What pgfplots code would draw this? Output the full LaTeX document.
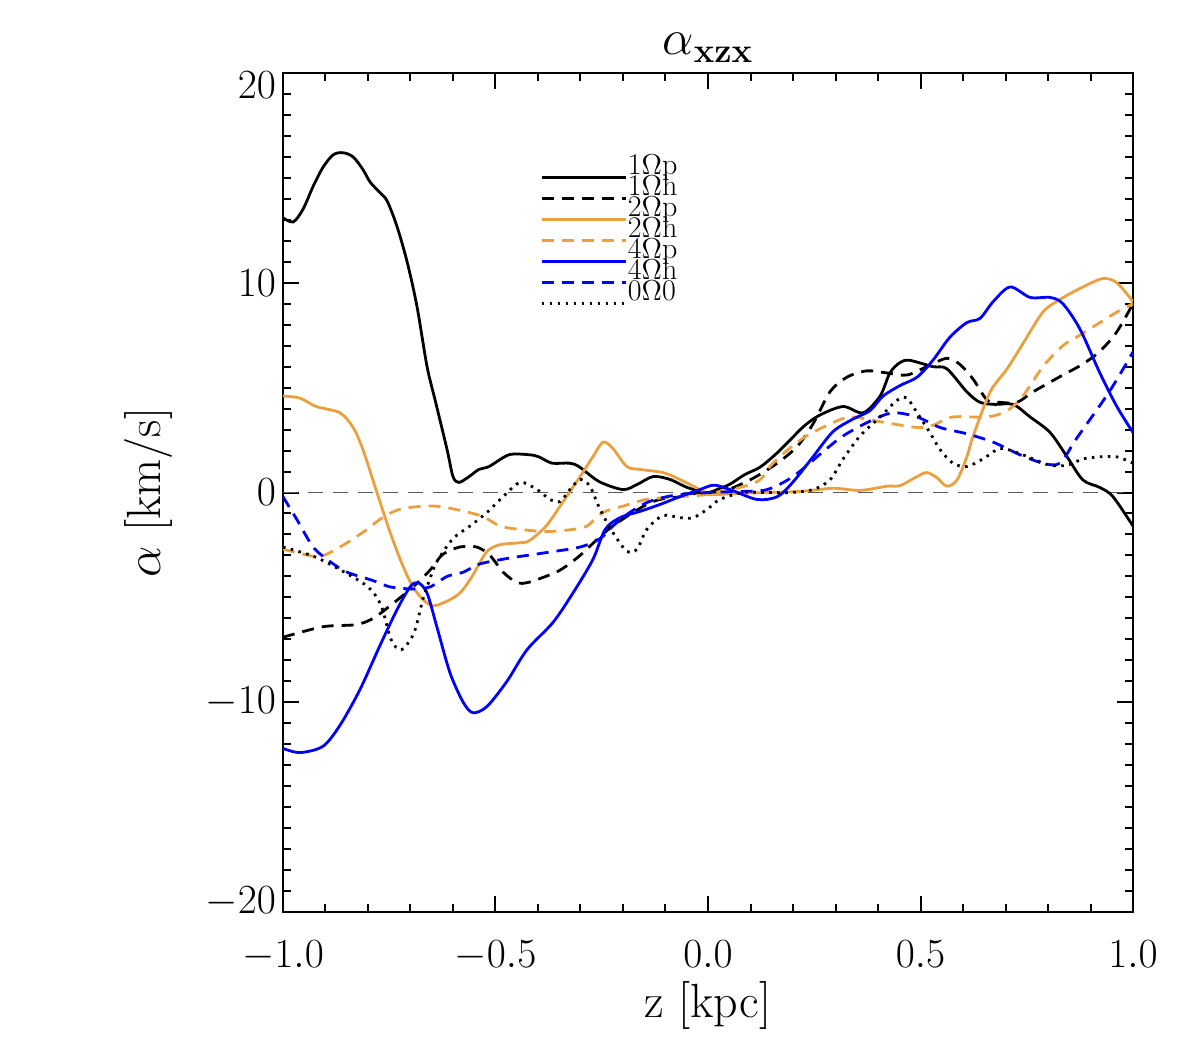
\documentclass[border=0pt]{standalone}
\usepackage{pgfplots}
\pgfplotsset{compat=1.18}
\definecolor{idlorange}{RGB}{235,160,64}
\begin{document}
\begin{tikzpicture}
\path[use as bounding box] (-141.5pt,-75pt) rectangle (448pt,456pt);
\begin{axis}[
  at={(0,0)}, anchor=south west, scale only axis,
  width=425pt, height=419.5pt,
  xmin=-1, xmax=1, ymin=-20, ymax=20,
  xtick={-1,-0.5,0,0.5,1}, ytick={-20,-10,0,10,20},
  yticklabels={{\raisebox{6pt}[\height][0pt]{$-20$}},{$-10$},{$0$},{$10$},{\raisebox{-6pt}[\height][0pt]{$20$}}},
  minor x tick num=4, minor y tick num=9,
  tick align=inside, xtick pos=both, ytick pos=both,
  major tick length=8pt, minor tick length=4pt,
  axis line style={line width=1.4pt},
  every tick/.style={black, line width=1pt},
  tick label style={font=\fontsize{20}{22}\selectfont},
  xticklabel style={/pgf/number format/fixed, /pgf/number format/fixed zerofill, /pgf/number format/precision=1, yshift=-11pt},
  xlabel={z [kpc]}, ylabel={$\alpha$ [km/s]},
  label style={font=\fontsize{24}{27}\selectfont},
  xlabel style={at={(axis description cs:0.5,-0.111)}, anchor=center},
  ylabel style={at={(axis description cs:-0.158,0.5)}, anchor=center, rotate=0},
  title={$\alpha_{\mathbf{xzx}}$},
  every axis title shift=0pt,
  title style={font=\fontsize{24}{26}\selectfont, at={(axis description cs:0.5,1.022)}, anchor=base, yshift=0pt},
  legend cell align=left,
  legend style={draw=none, fill=none, at={(axis description cs:0.295,0.903)}, anchor=north west,
    font=\fontsize{15}{15}\selectfont, row sep=0pt,
    nodes={inner sep=0.5pt, text height=7.5pt, text depth=2pt}},
  legend image code/.code={\draw[#1] (0pt,-4pt) -- (42pt,-4pt);},
  every axis plot/.append style={line width=1.4pt, smooth, tension=0.5},
]
\addplot[forget plot, gray!70!black, line width=0.6pt, sharp plot, dash pattern=on 7.5pt off 5pt] coordinates {(-1,0) (1,0)};

% 1Omega p
\addplot[black] coordinates {
(-1.000,13.1) (-0.976,12.9) (-0.953,13.5) (-0.929,14.6) (-0.906,15.5) (-0.882,16.1) (-0.859,16.2) (-0.835,16.0)
(-0.812,15.4) (-0.795,14.8) (-0.772,14.3) (-0.755,13.9) (-0.732,12.7) (-0.708,11.0) (-0.685,8.9) (-0.661,6.0)
(-0.642,4.4) (-0.614,2.05) (-0.600,0.76) (-0.586,0.48) (-0.562,0.76) (-0.539,1.1) (-0.515,1.24) (-0.468,1.8)
(-0.421,1.8) (-0.398,1.7) (-0.367,1.4) (-0.327,1.4) (-0.304,1.24) (-0.256,0.52) (-0.200,0.14) (-0.167,0.38)
(-0.129,0.76) (-0.089,0.62) (-0.049,0.24) (-0.002,0.0) (0.028,0.2) (0.052,0.4) (0.087,0.86) (0.122,1.2)
(0.158,1.8) (0.193,2.5) (0.228,3.2) (0.264,3.7) (0.318,4.1) (0.365,3.8) (0.405,4.6) (0.428,5.7) (0.452,6.2)
(0.475,6.3) (0.529,6.0) (0.562,5.9) (0.609,4.8) (0.640,4.3) (0.675,4.2) (0.718,4.2) (0.758,3.6) (0.805,2.86)
(0.845,1.7) (0.882,0.6) (0.922,0.24) (0.953,-0.2) (1.000,-1.6)};
\addlegendentry{1$\Omega$p}

% 1Omega h
\addplot[black, dash pattern=on 6pt off 4pt] coordinates {
(-1.000,-6.9) (-0.906,-6.4) (-0.828,-6.3) (-0.788,-6.0) (-0.748,-5.4) (-0.694,-4.5) (-0.654,-3.7) (-0.624,-2.95)
(-0.584,-2.6) (-0.544,-2.6) (-0.513,-3.0) (-0.482,-3.8) (-0.449,-4.3) (-0.426,-4.3) (-0.395,-4.1) (-0.348,-3.7)
(-0.301,-3.0) (-0.254,-2.1) (-0.224,-1.6) (-0.184,-1.05) (-0.144,-0.57) (-0.113,-0.33) (-0.066,-0.2) (-0.019,0.0)
(0.028,0.0) (0.099,0.6) (0.163,1.4) (0.210,2.2) (0.248,3.3) (0.287,4.8) (0.327,5.5) (0.374,5.8) (0.421,5.7)
(0.468,5.6) (0.515,6.0) (0.562,6.4) (0.593,6.1) (0.624,5.4) (0.657,4.4) (0.687,4.3) (0.727,4.3) (0.765,4.8)
(0.826,5.5) (0.880,6.1) (0.920,6.7) (0.960,7.6) (1.000,9.0)};
\addlegendentry{1$\Omega$h}

% 2Omega p
\addplot[idlorange] coordinates {
(-1.000,4.6) (-0.960,4.5) (-0.922,4.1) (-0.866,3.8) (-0.835,3.1) (-0.812,2.05) (-0.779,0.0) (-0.748,-1.9)
(-0.718,-3.5) (-0.694,-4.5) (-0.671,-5.1) (-0.647,-5.4) (-0.616,-5.2) (-0.584,-4.8) (-0.555,-4.0) (-0.522,-2.86)
(-0.492,-2.5) (-0.445,-2.4) (-0.421,-2.3) (-0.381,-1.6) (-0.343,-0.5) (-0.301,0.76) (-0.271,1.7) (-0.247,2.4)
(-0.224,2.1) (-0.191,1.24) (-0.160,1.1) (-0.106,0.95) (-0.066,0.62) (-0.019,0.14) (0.005,-0.1) (0.059,-0.05)
(0.139,0.0) (0.217,0.05) (0.294,0.2) (0.358,0.1) (0.421,0.3) (0.452,0.33) (0.492,0.76) (0.515,0.95) (0.539,0.7)
(0.562,0.3) (0.586,0.6) (0.609,1.7) (0.624,2.7) (0.664,4.8) (0.704,5.9) (0.741,7.1) (0.788,8.6) (0.828,9.2)
(0.882,9.8) (0.929,10.2) (0.962,10.0) (1.000,9.1)};
\addlegendentry{2$\Omega$p}

% 2Omega h
\addplot[idlorange, dash pattern=on 6pt off 4pt] coordinates {
(-1.000,-2.7) (-0.960,-2.9) (-0.913,-3.05) (-0.866,-2.6) (-0.812,-1.9) (-0.766,-1.2) (-0.725,-0.8) (-0.668,-0.65)
(-0.620,-0.7) (-0.536,-1.1) (-0.489,-1.6) (-0.442,-1.76) (-0.379,-1.86) (-0.318,-1.76) (-0.285,-1.6) (-0.247,-0.95)
(-0.200,-0.65) (-0.144,-0.33) (-0.066,-0.2) (-0.002,-0.1) (0.028,0.05) (0.075,0.24) (0.122,0.6) (0.153,1.4)
(0.217,2.5) (0.280,3.2) (0.334,3.6) (0.398,3.4) (0.492,3.1) (0.529,3.2) (0.576,3.6) (0.657,3.6) (0.704,3.9)
(0.741,4.6) (0.788,6.0) (0.835,7.0) (0.875,7.5) (0.922,8.1) (0.962,8.6) (1.000,9.0)};
\addlegendentry{2$\Omega$h}

% 4Omega p
\addplot[blue] coordinates {
(-1.000,-12.2) (-0.960,-12.4) (-0.906,-12.1) (-0.866,-11.1) (-0.819,-9.4) (-0.772,-7.3) (-0.732,-5.6) (-0.701,-4.5)
(-0.682,-4.3) (-0.661,-4.8) (-0.638,-6.4) (-0.607,-8.6) (-0.576,-10.0) (-0.553,-10.5) (-0.520,-10.2) (-0.473,-9.0)
(-0.426,-7.5) (-0.365,-6.2) (-0.318,-4.8) (-0.271,-3.2) (-0.242,-1.76) (-0.207,-1.2) (-0.160,-0.9) (-0.113,-0.57)
(-0.066,-0.2) (-0.019,0.14) (0.014,0.35) (0.052,0.14) (0.115,-0.33) (0.163,-0.2) (0.200,0.5) (0.247,1.7)
(0.294,2.9) (0.341,3.5) (0.381,3.9) (0.412,4.6) (0.452,5.1) (0.492,5.5) (0.529,6.3) (0.569,7.4) (0.609,8.1)
(0.640,8.3) (0.671,9.1) (0.711,9.8) (0.758,9.3) (0.805,9.3) (0.835,9.0) (0.875,7.8) (0.922,5.7) (0.962,4.1)
(1.000,2.86)};
\addlegendentry{4$\Omega$p}

% 4Omega h
\addplot[blue, dash pattern=on 6pt off 4pt] coordinates {
(-1.000,-0.2) (-0.967,-1.3) (-0.929,-2.6) (-0.889,-3.3) (-0.849,-3.8) (-0.788,-4.2) (-0.748,-4.5) (-0.694,-4.6)
(-0.654,-4.5) (-0.614,-4.0) (-0.576,-3.8) (-0.536,-3.4) (-0.459,-3.1) (-0.379,-2.86) (-0.301,-2.6) (-0.254,-2.2)
(-0.224,-1.6) (-0.184,-0.95) (-0.144,-0.48) (-0.106,-0.24) (-0.066,-0.1) (0.000,0.0) (0.075,0.05) (0.139,0.14)
(0.200,0.76) (0.271,1.95) (0.318,2.7) (0.381,3.4) (0.435,3.8) (0.492,3.6) (0.546,3.1) (0.609,2.8) (0.671,2.4)
(0.734,1.8) (0.788,1.4) (0.828,1.4) (0.868,2.6) (0.944,4.8) (1.000,6.7)};
\addlegendentry{4$\Omega$h}

% 0Omega 0
\addplot[black, dash pattern=on 1.3pt off 2.7pt] coordinates {
(-1.000,-2.6) (-0.927,-3.05) (-0.864,-3.7) (-0.800,-4.5) (-0.769,-5.4) (-0.746,-7.0) (-0.722,-7.5) (-0.692,-6.7)
(-0.671,-5.1) (-0.654,-4.1) (-0.638,-3.3) (-0.600,-2.2) (-0.560,-1.6) (-0.520,-0.95) (-0.482,-0.2) (-0.442,0.48)
(-0.402,0.14) (-0.372,-0.33) (-0.348,-0.43) (-0.325,0.14) (-0.301,0.62) (-0.278,0.3) (-0.254,-0.8) (-0.224,-1.9)
(-0.191,-2.8) (-0.167,-2.7) (-0.144,-1.76) (-0.106,-1.1) (-0.066,-1.2) (-0.035,-1.2) (-0.002,-0.8) (0.028,-0.33)
(0.082,0.0) (0.139,0.0) (0.193,0.0) (0.247,0.14) (0.287,0.6) (0.318,1.6) (0.358,2.7) (0.405,3.6) (0.445,4.4)
(0.468,4.5) (0.492,3.8) (0.522,2.86) (0.546,2.05) (0.576,1.4) (0.609,1.24) (0.647,1.6) (0.687,2.1) (0.727,1.9)
(0.765,1.6) (0.805,1.3) (0.845,1.3) (0.882,1.6) (0.922,1.7) (0.962,1.7) (1.000,1.4)};
\addlegendentry{0$\Omega$0}
\end{axis}
\end{tikzpicture}
\end{document}
